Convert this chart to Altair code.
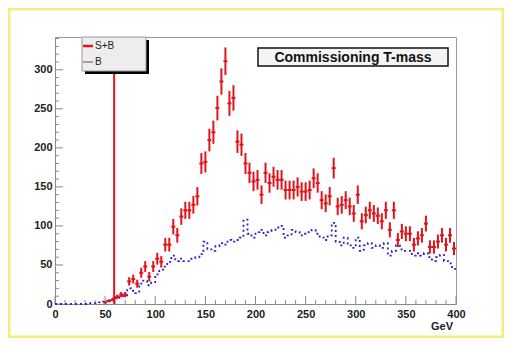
import math
import altair as alt
import pandas as pd

# ---------------- data ----------------
bin_centers = list(range(2, 400, 4))  # 100 bins of 4 GeV

sb_counts = [0] * 12 + [
    2, 4, 6, 9, 12, 12,
    29, 32, 26, 40, 48, 35, 48, 58, 54, 76, 76, 99, 88, 112, 120, 120, 127, 138,
    180, 182, 210, 220, 251, 285, 311, 257, 264, 208, 204, 180, 168, 157, 159,
    140, 168, 155, 163, 159, 159, 146, 146, 146, 150, 144, 144, 146, 161, 155,
    133, 129, 138, 174, 125, 127, 133, 125, 116, 140, 106, 114, 120, 116, 113,
    106, 120, 95, 120, 82, 93, 90, 90, 76, 84, 88, 103, 73, 73, 80, 88, 76, 88, 71,
]

b_counts = [0, 0, 0, 0, 0, 0, 0, 0, 1, 1, 1, 2] + [
    3, 4, 5, 8, 10, 11,
    20, 17, 14, 26, 30, 24, 28, 38, 44, 48, 54, 62, 55, 58, 55, 55, 58, 60,
    64, 80, 70, 68, 74, 78, 76, 82, 80, 82, 85, 108, 90, 85, 92,
    95, 88, 92, 95, 98, 100, 85, 88, 95, 92, 88, 90, 92, 95, 90,
    85, 82, 88, 104, 80, 75, 85, 75, 72, 85, 68, 75, 78, 72, 75,
    72, 78, 62, 68, 75, 70, 68, 68, 62, 65, 62, 65, 60, 55, 60, 63, 55, 52, 45,
]

cut_gev = 59
x_label_values = [0, 50, 100, 150, 200, 250, 300, 350, 400]
y_label_values = [0, 50, 100, 150, 200, 250, 300]
x_tick_values = list(range(0, 401, 10))
y_tick_values = list(range(0, 341, 10))
legend_labels = ["S+B", "B"]
title_text = "Commissioning T-mass"
x_title = "GeV"

# ---------------- layout ----------------
W, H = 401, 267
YMAX = 342
BIN_W = 4
FONT = "Liberation Sans"

xs = alt.Scale(domain=[0, 400], nice=False, zero=False)
ys = alt.Scale(domain=[0, YMAX], nice=False)
x_axis = alt.Axis(values=x_label_values, format="d", title=None, ticks=False,
                  grid=False, labelFont=FONT, labelFontSize=11,
                  labelFontWeight="bold", labelColor="#222222",
                  labelPadding=4, domainColor="#8a8a8a", labelFlush=False)
y_axis = alt.Axis(values=y_label_values, format="d", title=None, ticks=False,
                  grid=False, labelFont=FONT, labelFontSize=11,
                  labelFontWeight="bold", labelColor="#222222",
                  labelPadding=3, domainColor="#8a8a8a")


def X(field, **kw):
    return alt.X(field, type="quantitative", scale=xs, axis=x_axis, **kw)


def Y(field, **kw):
    return alt.Y(field, type="quantitative", scale=ys, axis=y_axis, **kw)


# background histogram as step line (edges)
edges = [c - BIN_W / 2 for c in bin_centers] + [bin_centers[-1] + BIN_W / 2]
b_df = pd.DataFrame({"x": edges, "y": b_counts + [b_counts[-1]]})

sb_df = pd.DataFrame({"x": bin_centers, "y": sb_counts})
sb_df = sb_df[sb_df["y"] > 0].copy()
sb_df["lo"] = sb_df["y"] - sb_df["y"].apply(math.sqrt)
sb_df["hi"] = sb_df["y"] + sb_df["y"].apply(math.sqrt)
sb_df["xl"] = sb_df["x"] - BIN_W / 2
sb_df["xh"] = sb_df["x"] + BIN_W / 2

one = alt.Data(values=[{"a": 1}])

frame = alt.Chart(one).mark_rect(filled=False, stroke="#f3ee7a", strokeWidth=3).encode(
    x=alt.value(-46), x2=alt.value(448), y=alt.value(-28), y2=alt.value(300))

b_line = alt.Chart(b_df).mark_line(interpolate="step-after", color="#2424c8",
                                   strokeWidth=1.8, strokeDash=[2, 3]).encode(
    x=X("x"), y=Y("y"))

sb_v = alt.Chart(sb_df).mark_rule(color="#e0141c", strokeWidth=2).encode(
    x=X("x"), y=Y("lo"), y2="hi")
sb_h = alt.Chart(sb_df).mark_rule(color="#e0141c", strokeWidth=2).encode(
    x=X("xl"), x2="xh", y=Y("y"))

cut = alt.Chart(pd.DataFrame({"x": [cut_gev]})).mark_rule(
    color="#e0141c", strokeWidth=2).encode(x=X("x"), y=alt.value(0), y2=alt.value(H))

xt = pd.DataFrame({"x": x_tick_values})
xt["major"] = xt["x"] % 50 == 0
yt = pd.DataFrame({"y": y_tick_values})
yt["major"] = yt["y"] % 50 == 0

xt_minor = alt.Chart(xt[~xt["major"]]).mark_rule(color="#8a8a8a").encode(
    x=X("x"), y=alt.value(H), y2=alt.value(H - 4))
xt_major = alt.Chart(xt[xt["major"]]).mark_rule(color="#8a8a8a").encode(
    x=X("x"), y=alt.value(H), y2=alt.value(H - 8))
yt_minor = alt.Chart(yt[~yt["major"]]).mark_rule(color="#8a8a8a").encode(
    y=Y("y"), x=alt.value(0), x2=alt.value(4))
yt_major = alt.Chart(yt[yt["major"]]).mark_rule(color="#8a8a8a").encode(
    y=Y("y"), x=alt.value(0), x2=alt.value(8))

# legend box
leg_shadow = alt.Chart(one).mark_rect(fill="#000000").encode(
    x=alt.value(30), x2=alt.value(94), y=alt.value(3), y2=alt.value(37))
leg_box = alt.Chart(one).mark_rect(fill="#ededed", stroke="#999999", strokeWidth=1).encode(
    x=alt.value(27), x2=alt.value(91), y=alt.value(0), y2=alt.value(34))
leg_l1 = alt.Chart(one).mark_rule(color="#e0141c", strokeWidth=2.5).encode(
    x=alt.value(28), x2=alt.value(38), y=alt.value(9))
leg_l2 = alt.Chart(one).mark_rule(color="#555555", strokeWidth=1).encode(
    x=alt.value(28), x2=alt.value(38), y=alt.value(25))
leg_t1 = alt.Chart(one).mark_text(text=legend_labels[0], align="left", baseline="middle",
                                  font=FONT, fontSize=10, color="#222222").encode(
    x=alt.value(40), y=alt.value(9))
leg_t2 = alt.Chart(one).mark_text(text=legend_labels[1], align="left", baseline="middle",
                                  font=FONT, fontSize=10, color="#222222").encode(
    x=alt.value(40), y=alt.value(25))

# title box
tbox = alt.Chart(one).mark_rect(fill="#f4f4f4", stroke="#111111", strokeWidth=1.5).encode(
    x=alt.value(203), x2=alt.value(393), y=alt.value(11), y2=alt.value(29))
ttext = alt.Chart(one).mark_text(text=title_text, align="center", baseline="middle",
                                 font=FONT, fontSize=14, fontWeight="bold",
                                 color="#111111").encode(
    x=alt.value(298), y=alt.value(20.5))

gev = alt.Chart(one).mark_text(text=x_title, align="right", baseline="middle",
                               font=FONT, fontSize=11, fontWeight="bold",
                               color="#222222").encode(
    x=alt.value(398), y=alt.value(290))

chart = alt.layer(
    frame, xt_minor, xt_major, yt_minor, yt_major,
    b_line, sb_v, sb_h, cut,
    leg_shadow, leg_box, leg_l1, leg_l2, leg_t1, leg_t2,
    tbox, ttext, gev,
).properties(
    width=W, height=H,
    autosize=alt.AutoSizeParams(type="none"),
    padding={"left": 47, "top": 29, "right": 48, "bottom": 34},
    background="white",
).configure_view(stroke="#9a9a9a", strokeWidth=1)

chart.save("out.html", embed_options={"renderer": "svg", "actions": False})
